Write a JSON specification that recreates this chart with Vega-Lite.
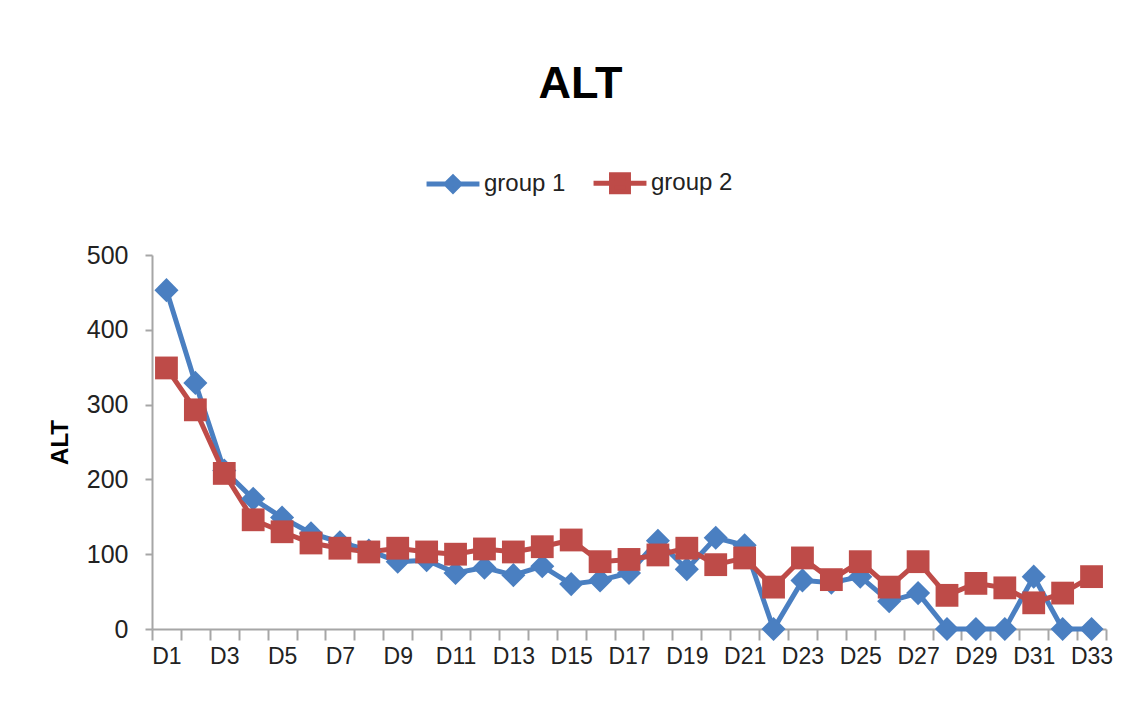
{
  "$schema": "https://vega.github.io/schema/vega-lite/v6.json",
  "width": 954,
  "height": 374,
  "autosize": {"type": "none"},
  "padding": {"left": 152, "top": 255, "right": 25, "bottom": 88},
  "background": "white",
  "title": {
    "text": "ALT",
    "anchor": "middle",
    "frame": "bounds",
    "font": "Liberation Sans, Arial, sans-serif",
    "fontSize": 45,
    "fontWeight": "bold",
    "color": "#000000",
    "offset": 47
  },
  "data": {
    "values": [
      {"day": "D1", "group": "group 1", "value": 453},
      {"day": "D2", "group": "group 1", "value": 329},
      {"day": "D3", "group": "group 1", "value": 212},
      {"day": "D4", "group": "group 1", "value": 174},
      {"day": "D5", "group": "group 1", "value": 149},
      {"day": "D6", "group": "group 1", "value": 128},
      {"day": "D7", "group": "group 1", "value": 116},
      {"day": "D8", "group": "group 1", "value": 105},
      {"day": "D9", "group": "group 1", "value": 90},
      {"day": "D10", "group": "group 1", "value": 92},
      {"day": "D11", "group": "group 1", "value": 75},
      {"day": "D12", "group": "group 1", "value": 82},
      {"day": "D13", "group": "group 1", "value": 72},
      {"day": "D14", "group": "group 1", "value": 84},
      {"day": "D15", "group": "group 1", "value": 60},
      {"day": "D16", "group": "group 1", "value": 65},
      {"day": "D17", "group": "group 1", "value": 75},
      {"day": "D18", "group": "group 1", "value": 118},
      {"day": "D19", "group": "group 1", "value": 80},
      {"day": "D20", "group": "group 1", "value": 122},
      {"day": "D21", "group": "group 1", "value": 112},
      {"day": "D22", "group": "group 1", "value": 0},
      {"day": "D23", "group": "group 1", "value": 65},
      {"day": "D24", "group": "group 1", "value": 62},
      {"day": "D25", "group": "group 1", "value": 70},
      {"day": "D26", "group": "group 1", "value": 37},
      {"day": "D27", "group": "group 1", "value": 48},
      {"day": "D28", "group": "group 1", "value": 0},
      {"day": "D29", "group": "group 1", "value": 0},
      {"day": "D30", "group": "group 1", "value": 0},
      {"day": "D31", "group": "group 1", "value": 70},
      {"day": "D32", "group": "group 1", "value": 0},
      {"day": "D33", "group": "group 1", "value": 0},
      {"day": "D1", "group": "group 2", "value": 349},
      {"day": "D2", "group": "group 2", "value": 293},
      {"day": "D3", "group": "group 2", "value": 208},
      {"day": "D4", "group": "group 2", "value": 146},
      {"day": "D5", "group": "group 2", "value": 130},
      {"day": "D6", "group": "group 2", "value": 115},
      {"day": "D7", "group": "group 2", "value": 108},
      {"day": "D8", "group": "group 2", "value": 103},
      {"day": "D9", "group": "group 2", "value": 108},
      {"day": "D10", "group": "group 2", "value": 103},
      {"day": "D11", "group": "group 2", "value": 100},
      {"day": "D12", "group": "group 2", "value": 107},
      {"day": "D13", "group": "group 2", "value": 103},
      {"day": "D14", "group": "group 2", "value": 110},
      {"day": "D15", "group": "group 2", "value": 119},
      {"day": "D16", "group": "group 2", "value": 90},
      {"day": "D17", "group": "group 2", "value": 93},
      {"day": "D18", "group": "group 2", "value": 99},
      {"day": "D19", "group": "group 2", "value": 108},
      {"day": "D20", "group": "group 2", "value": 86},
      {"day": "D21", "group": "group 2", "value": 95},
      {"day": "D22", "group": "group 2", "value": 56},
      {"day": "D23", "group": "group 2", "value": 95},
      {"day": "D24", "group": "group 2", "value": 66},
      {"day": "D25", "group": "group 2", "value": 90},
      {"day": "D26", "group": "group 2", "value": 56},
      {"day": "D27", "group": "group 2", "value": 90},
      {"day": "D28", "group": "group 2", "value": 45},
      {"day": "D29", "group": "group 2", "value": 61},
      {"day": "D30", "group": "group 2", "value": 55},
      {"day": "D31", "group": "group 2", "value": 35},
      {"day": "D32", "group": "group 2", "value": 48},
      {"day": "D33", "group": "group 2", "value": 70}
    ]
  },
  "encoding": {
    "x": {
      "field": "day",
      "type": "ordinal",
      "sort": null,
      "scale": {"type": "band", "paddingInner": 0, "paddingOuter": 0},
      "axis": {
        "title": null,
        "labelAngle": 0,
        "labelExpr": "parseInt(substring(datum.label, 1)) % 2 == 1 ? datum.label : ''",
        "labelOverlap": false,
        "tickBand": "extent",
        "tickSize": 11,
        "labelPadding": 5,
        "labelFont": "Liberation Sans, Arial, sans-serif",
        "labelFontSize": 23,
        "labelColor": "#222222",
        "domainColor": "#a6a6a6",
        "tickColor": "#a6a6a6",
        "domainWidth": 2,
        "tickWidth": 2,
        "grid": false
      }
    },
    "y": {
      "field": "value",
      "type": "quantitative",
      "scale": {"domain": [0, 500], "nice": false},
      "axis": {
        "title": "ALT",
        "titleFont": "Liberation Sans, Arial, sans-serif",
        "titleFontSize": 24,
        "titleFontWeight": "bold",
        "titleColor": "#000000",
        "titlePadding": 14,
        "values": [0, 100, 200, 300, 400, 500],
        "tickSize": 7,
        "labelPadding": 17,
        "labelFont": "Liberation Sans, Arial, sans-serif",
        "labelFontSize": 25,
        "labelColor": "#222222",
        "domainColor": "#a6a6a6",
        "tickColor": "#a6a6a6",
        "domainWidth": 2,
        "tickWidth": 2,
        "grid": false
      }
    },
    "color": {
      "field": "group",
      "type": "nominal",
      "scale": {"domain": ["group 1", "group 2"], "range": ["#4a7fc1", "#be4b48"]},
      "legend": {
        "orient": "none",
        "direction": "horizontal",
        "legendX": 272,
        "legendY": -101,
        "title": null,
        "symbolType": {"expr": "datum.value === 'group 1' ? 'M-1,0H1M0,-0.26L0.26,0L0,0.26L-0.26,0Z' : 'M-1,0H1M-0.32,-0.32H0.32V0.32H-0.32Z'"},
        "symbolSize": 2800,
        "symbolStrokeWidth": 5,
        "symbolFillColor": {"expr": "datum.value === 'group 1' ? '#4a7fc1' : '#be4b48'"},
        "symbolStrokeColor": {"expr": "datum.value === 'group 1' ? '#4a7fc1' : '#be4b48'"},
        "labelFont": "Liberation Sans, Arial, sans-serif",
        "labelFontSize": 24,
        "labelColor": "#222222",
        "labelOffset": 2,
        "columnPadding": 17
      }
    }
  },
  "layer": [
    {
      "mark": {"type": "line", "strokeWidth": 5}
    },
    {
      "transform": [{"filter": "datum.group === 'group 1'"}],
      "mark": {"type": "point", "shape": "diamond", "filled": true, "size": 580, "opacity": 1}
    },
    {
      "transform": [{"filter": "datum.group === 'group 2'"}],
      "mark": {"type": "point", "shape": "square", "filled": true, "size": 520, "opacity": 1}
    }
  ],
  "config": {"view": {"stroke": null}}
}
